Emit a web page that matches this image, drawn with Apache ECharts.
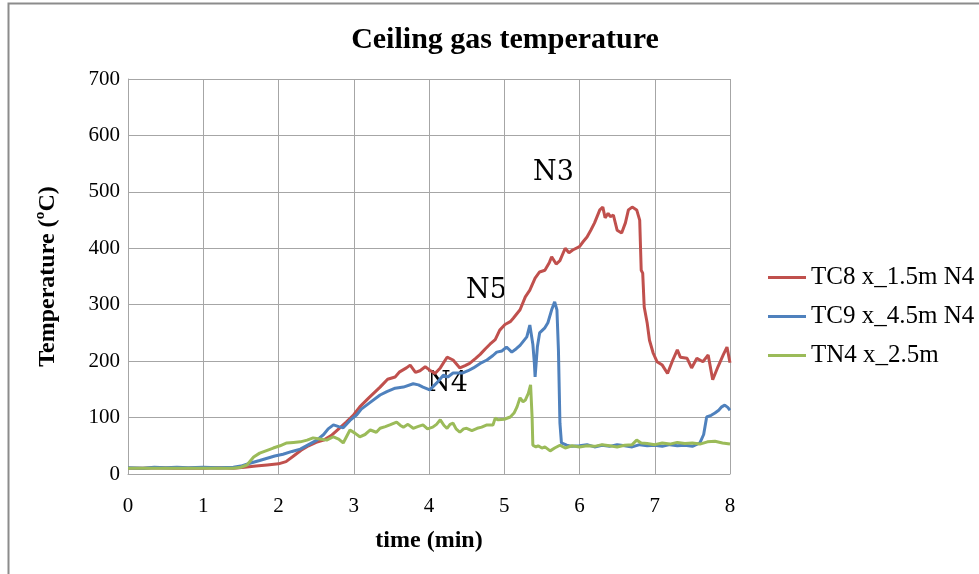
<!DOCTYPE html>
<html><head><meta charset="utf-8">
<script src="https://cdn.jsdelivr.net/npm/echarts@6/dist/echarts.min.js"></script>
<style>html,body{margin:0;padding:0;background:#fff}#c{width:979px;height:574px}</style>
</head><body><div id="c"></div>
<script>
var seriesNames = ['TC8 x_1.5m N4', 'TC9 x_4.5m N4', 'TN4 x_2.5m'];
var xTicks = [0,1,2,3,4,5,6,7,8];
var yTicks = [0,100,200,300,400,500,600,700];

var tTC8 = [0,0.2,0.4,0.6,0.8,1.0,1.2,1.4,1.55,1.7,1.85,2.0,2.1,2.2,2.3,2.4,2.5,2.6,2.7,2.8,2.9,3.0,3.08,3.2,3.35,3.45,3.55,3.61,3.7,3.75,3.82,3.88,3.95,4.01,4.08,4.15,4.24,4.32,4.41,4.48,4.54,4.62,4.68,4.75,4.81,4.88,4.94,5.01,5.08,5.12,5.21,5.28,5.34,5.41,5.47,5.54,5.6,5.63,5.69,5.74,5.81,5.86,5.91,6.0,6.05,6.1,6.15,6.2,6.27,6.31,6.34,6.38,6.41,6.45,6.5,6.56,6.61,6.65,6.7,6.76,6.8,6.82,6.84,6.86,6.9,6.93,6.98,7.03,7.1,7.17,7.24,7.3,7.34,7.43,7.49,7.56,7.64,7.71,7.77,7.84,7.91,7.96,8.0];
var vTC8 = [10,10,11,10,10,10,11,10,12,14,16,18,22,32,42,50,56,60,68,80,92,105,119,135,154,168,172,181,188,193,180,183,190,184,178,188,207,202,188,192,196,205,212,222,230,238,255,265,270,276,291,314,326,347,358,361,375,385,372,378,400,392,397,403,412,420,432,445,468,473,454,462,456,459,432,427,445,468,473,468,450,361,356,296,267,237,214,199,193,178,202,220,207,205,188,205,199,211,167,190,211,225,197];

var tTC9 = [0,0.2,0.35,0.5,0.65,0.8,1.0,1.2,1.4,1.5,1.62,1.75,1.85,1.95,2.06,2.18,2.29,2.4,2.51,2.6,2.66,2.73,2.8,2.86,2.95,3.04,3.1,3.21,3.35,3.44,3.55,3.66,3.79,3.86,3.92,4.01,4.1,4.19,4.25,4.32,4.45,4.52,4.59,4.68,4.77,4.85,4.9,4.97,5.03,5.1,5.16,5.21,5.3,5.34,5.36,5.38,5.4,5.41,5.44,5.47,5.54,5.58,5.63,5.67,5.7,5.72,5.74,5.76,5.83,5.9,6.0,6.1,6.2,6.3,6.4,6.5,6.6,6.7,6.8,6.9,7.0,7.1,7.2,7.3,7.4,7.5,7.6,7.65,7.69,7.75,7.8,7.85,7.89,7.93,7.97,8.0];
var vTC9 = [11,10,12,11,12,11,12,11,12,14,19,24,28,32,35,40,44,52,60,70,80,87,84,82,95,105,115,126,140,146,152,154,160,158,154,149,161,175,172,179,179,183,188,196,202,210,216,218,225,216,222,228,243,264,261,230,197,172,225,250,259,268,291,305,291,220,90,55,51,49,50,52,48,51,49,52,50,48,52,50,51,49,52,50,51,49,55,70,101,104,108,113,119,122,118,113];

var tTN4 = [0,0.2,0.4,0.6,0.8,1.0,1.2,1.4,1.5,1.58,1.67,1.75,1.85,1.93,2.02,2.11,2.2,2.29,2.38,2.46,2.55,2.64,2.73,2.8,2.86,2.95,3.02,3.08,3.15,3.22,3.3,3.35,3.42,3.48,3.57,3.62,3.66,3.72,3.79,3.85,3.92,3.98,4.05,4.1,4.15,4.2,4.24,4.28,4.32,4.36,4.41,4.46,4.5,4.57,4.64,4.7,4.77,4.85,4.88,4.92,5.0,5.08,5.13,5.17,5.21,5.25,5.28,5.32,5.35,5.37,5.38,5.42,5.45,5.5,5.54,5.61,5.67,5.74,5.81,5.9,6.0,6.1,6.2,6.3,6.4,6.5,6.6,6.7,6.76,6.82,6.9,7.0,7.1,7.2,7.3,7.4,7.5,7.6,7.7,7.8,7.9,8.0];
var vTN4 = [10,10,10,10,10,10,10,10,12,16,30,37,42,46,50,55,56,57,60,64,62,60,66,62,55,78,72,66,70,78,74,81,84,87,92,86,83,88,81,84,87,80,83,88,96,86,81,88,90,80,74,80,81,77,81,83,87,87,99,96,97,101,108,119,135,128,131,143,158,101,51,48,50,46,48,41,46,51,46,50,48,50,49,52,50,48,51,52,60,55,54,52,55,53,56,54,55,53,57,58,55,53];

function pairs(t, v) { return t.map(function (x, i) { return [x, v[i]]; }); }

var colors = ['#c0504d', '#4f81bd', '#9bbb59'];
var serif = 'Liberation Serif';
var chart = echarts.init(document.getElementById('c'), null, {renderer: 'canvas'});
var dataSets = [pairs(tTC8, vTC8), pairs(tTC9, vTC9), pairs(tTN4, vTN4)];

chart.setOption({
  animation: false,
  backgroundColor: '#fff',
  title: {
    text: 'Ceiling gas temperature', left: 500, top: 20, textAlign: 'center',
    textStyle: {fontFamily: serif, fontWeight: 'bold', fontSize: 30, color: '#000'}
  },
  grid: {left: 128, right: 249, top: 79, bottom: 100, containLabel: false},
  legend: {
    orient: 'vertical', left: 763, top: 259, itemGap: 12, itemWidth: 38, itemHeight: 3,
    icon: 'rect',
    textStyle: {fontFamily: serif, fontSize: 25, color: '#000', lineHeight: 27},
    data: seriesNames
  },
  xAxis: {
    type: 'value', min: 0, max: 8, interval: 1,
    name: 'time (min)', nameLocation: 'middle', nameGap: 55,
    nameTextStyle: {fontFamily: serif, fontWeight: 'bold', fontSize: 24, color: '#000'},
    axisLine: {lineStyle: {color: '#a6a6a6', width: 1}},
    axisTick: {show: false},
    axisLabel: {fontFamily: serif, fontSize: 21, color: '#000', margin: 22,
      formatter: function (v) { return xTicks.indexOf(v) >= 0 ? String(v) : ''; }},
    splitLine: {show: true, lineStyle: {color: '#a6a6a6', width: 1}}
  },
  yAxis: {
    type: 'value', min: 0, max: 700, interval: 100,
    name: 'Temperature (ºC)', nameLocation: 'middle', nameGap: 68,
    nameTextStyle: {fontFamily: serif, fontWeight: 'bold', fontSize: 24, color: '#000'},
    axisLine: {show: true, lineStyle: {color: '#a6a6a6', width: 1}},
    axisTick: {show: false},
    axisLabel: {fontFamily: serif, fontSize: 21, color: '#000', margin: 8,
      formatter: function (v) { return yTicks.indexOf(v) >= 0 ? String(v) : ''; }},
    splitLine: {show: true, lineStyle: {color: '#a6a6a6', width: 1}}
  },
  series: seriesNames.map(function (n, i) {
    return {
      name: n, type: 'line', data: dataSets[i], showSymbol: false, symbol: 'none',
      lineStyle: {color: colors[i], width: 3}, itemStyle: {color: colors[i]}
    };
  }),
  graphic: [
    {type: 'rect', shape: {x: 8.5, y: 3.5, width: 1000, height: 700}, style: {fill: 'none', stroke: '#8c8c8c', lineWidth: 2}, silent: true, z: -1},
    {type: 'text', left: 533, top: 159, style: {text: 'N3', font: '27px "DejaVu Serif"', fill: '#000'}},
    {type: 'text', left: 466, top: 277, style: {text: 'N5', font: '27px "DejaVu Serif"', fill: '#000'}},
    {type: 'text', left: 427, top: 370, style: {text: 'N4', font: '27px "DejaVu Serif"', fill: '#000'}}
  ]
});
</script></body></html>
